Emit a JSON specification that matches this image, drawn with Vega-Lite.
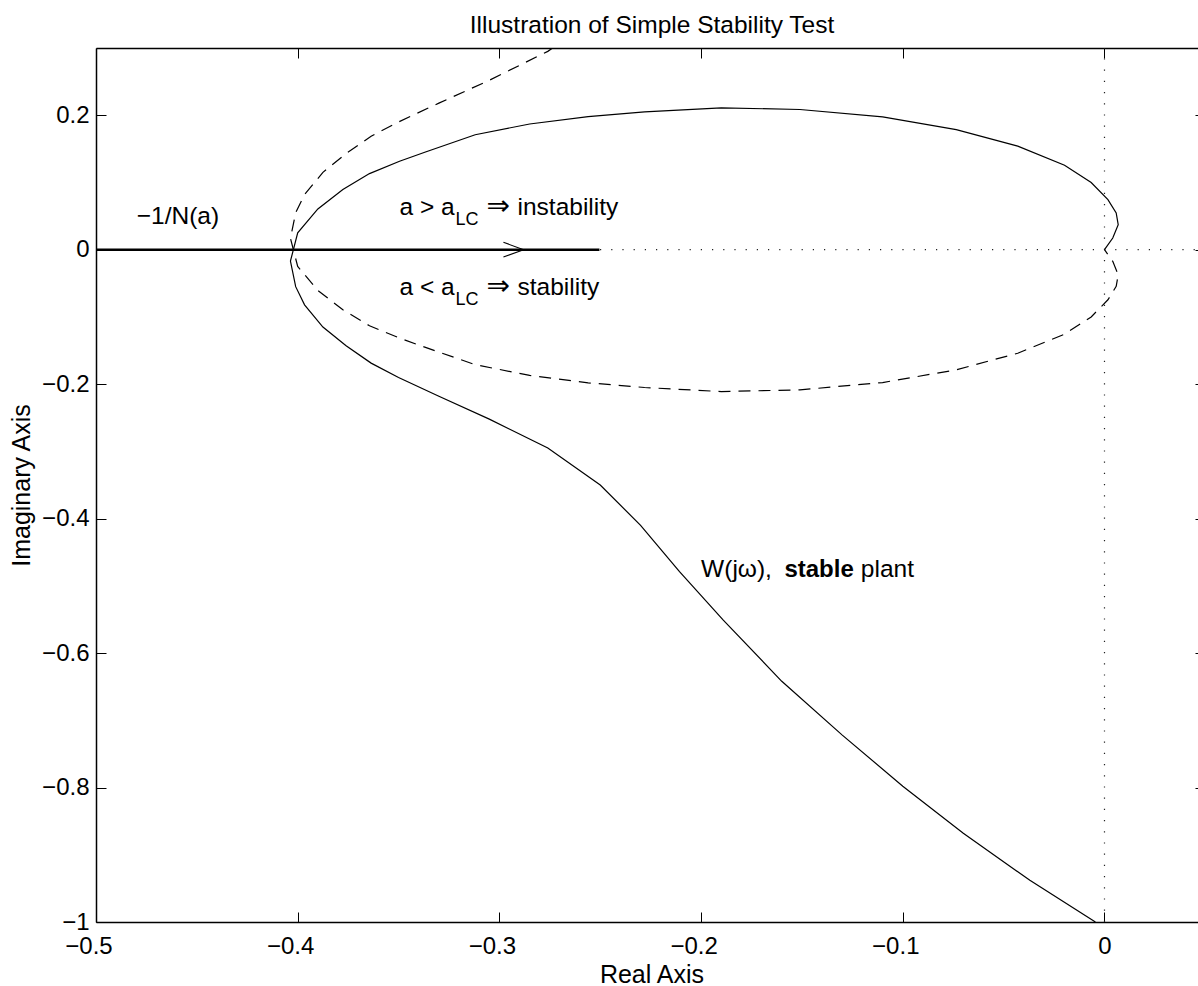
{
  "$schema": "https://vega.github.io/schema/vega-lite/v6.json",
  "width": 1102,
  "height": 874,
  "autosize": {"type": "none"},
  "padding": {"left": 96, "top": 48, "right": 0, "bottom": 64},
  "background": "white",
  "title": {"text": "Illustration of Simple Stability Test", "fontSize": 24.5, "fontWeight": "normal", "font": "Liberation Sans", "color": "black", "anchor": "middle", "frame": "group", "baseline": "alphabetic", "offset": -9.5, "dx": 5},
  "config": {
    "font": "Liberation Sans",
    "view": {"stroke": null},
    "axis": {"grid": false, "domainColor": "black", "domainWidth": 1.5, "tickColor": "black", "tickWidth": 1, "labelColor": "black", "labelFont": "Liberation Sans", "labelFontSize": 24, "titleFont": "Liberation Sans", "titleFontSize": 25, "titleFontWeight": "normal", "titleColor": "black", "labelFlush": false, "labelOverlap": false, "labelBound": false}
  },
  "datasets": {
    "segs": [
      {"role": "dot", "x": -0.5, "y": 0, "x2": 0.06, "y2": 0},
      {"role": "dot", "x": 0, "y": -1, "x2": 0, "y2": 0.3},
      {"role": "thick", "x": -0.5, "y": 0, "x2": -0.2504, "y2": 0},
      {"role": "arrow", "x": -0.298, "y": 0.011, "x2": -0.288, "y2": 0},
      {"role": "arrow", "x": -0.298, "y": -0.011, "x2": -0.288, "y2": 0}
    ],
    "curves": [
      {"s": "pos", "i": 1, "x": -0.0045, "y": -1.0},
      {"s": "pos", "i": 2, "x": -0.037, "y": -0.938},
      {"s": "pos", "i": 3, "x": -0.07, "y": -0.868},
      {"s": "pos", "i": 4, "x": -0.1, "y": -0.798},
      {"s": "pos", "i": 5, "x": -0.13, "y": -0.722},
      {"s": "pos", "i": 6, "x": -0.16, "y": -0.642},
      {"s": "pos", "i": 7, "x": -0.189, "y": -0.551},
      {"s": "pos", "i": 8, "x": -0.2107, "y": -0.479},
      {"s": "pos", "i": 9, "x": -0.23, "y": -0.41},
      {"s": "pos", "i": 10, "x": -0.25, "y": -0.35},
      {"s": "pos", "i": 11, "x": -0.276, "y": -0.295},
      {"s": "pos", "i": 12, "x": -0.305, "y": -0.252},
      {"s": "pos", "i": 13, "x": -0.33, "y": -0.218},
      {"s": "pos", "i": 14, "x": -0.35, "y": -0.19},
      {"s": "pos", "i": 15, "x": -0.3636, "y": -0.1687},
      {"s": "pos", "i": 16, "x": -0.376, "y": -0.143},
      {"s": "pos", "i": 17, "x": -0.3875, "y": -0.115},
      {"s": "pos", "i": 18, "x": -0.3966, "y": -0.082},
      {"s": "pos", "i": 19, "x": -0.401, "y": -0.055},
      {"s": "pos", "i": 20, "x": -0.4036, "y": -0.017},
      {"s": "pos", "i": 21, "x": -0.4, "y": 0.025},
      {"s": "pos", "i": 22, "x": -0.39, "y": 0.0606},
      {"s": "pos", "i": 23, "x": -0.3776, "y": 0.0894},
      {"s": "pos", "i": 24, "x": -0.3644, "y": 0.1132},
      {"s": "pos", "i": 25, "x": -0.3495, "y": 0.1315},
      {"s": "pos", "i": 26, "x": -0.337, "y": 0.145},
      {"s": "pos", "i": 27, "x": -0.312, "y": 0.171},
      {"s": "pos", "i": 28, "x": -0.285, "y": 0.187},
      {"s": "pos", "i": 29, "x": -0.256, "y": 0.198},
      {"s": "pos", "i": 30, "x": -0.228, "y": 0.205},
      {"s": "pos", "i": 31, "x": -0.19, "y": 0.211},
      {"s": "pos", "i": 32, "x": -0.151, "y": 0.2085},
      {"s": "pos", "i": 33, "x": -0.11, "y": 0.1976},
      {"s": "pos", "i": 34, "x": -0.0735, "y": 0.1787},
      {"s": "pos", "i": 35, "x": -0.043, "y": 0.154},
      {"s": "pos", "i": 36, "x": -0.0198, "y": 0.1256},
      {"s": "pos", "i": 37, "x": -0.0066, "y": 0.1},
      {"s": "pos", "i": 38, "x": 0.0017, "y": 0.0745},
      {"s": "pos", "i": 39, "x": 0.0058, "y": 0.0546},
      {"s": "pos", "i": 40, "x": 0.0068, "y": 0.0372},
      {"s": "pos", "i": 41, "x": 0.0041, "y": 0.0174},
      {"s": "pos", "i": 42, "x": 0.0, "y": 0.0},
      {"s": "neg", "i": 1, "x": -0.0045, "y": 1.0},
      {"s": "neg", "i": 2, "x": -0.037, "y": 0.938},
      {"s": "neg", "i": 3, "x": -0.07, "y": 0.868},
      {"s": "neg", "i": 4, "x": -0.1, "y": 0.798},
      {"s": "neg", "i": 5, "x": -0.13, "y": 0.722},
      {"s": "neg", "i": 6, "x": -0.16, "y": 0.642},
      {"s": "neg", "i": 7, "x": -0.189, "y": 0.551},
      {"s": "neg", "i": 8, "x": -0.2107, "y": 0.479},
      {"s": "neg", "i": 9, "x": -0.23, "y": 0.41},
      {"s": "neg", "i": 10, "x": -0.25, "y": 0.35},
      {"s": "neg", "i": 11, "x": -0.276, "y": 0.295},
      {"s": "neg", "i": 12, "x": -0.305, "y": 0.252},
      {"s": "neg", "i": 13, "x": -0.33, "y": 0.218},
      {"s": "neg", "i": 14, "x": -0.35, "y": 0.19},
      {"s": "neg", "i": 15, "x": -0.3636, "y": 0.1687},
      {"s": "neg", "i": 16, "x": -0.376, "y": 0.143},
      {"s": "neg", "i": 17, "x": -0.3875, "y": 0.115},
      {"s": "neg", "i": 18, "x": -0.3966, "y": 0.082},
      {"s": "neg", "i": 19, "x": -0.401, "y": 0.055},
      {"s": "neg", "i": 20, "x": -0.4036, "y": 0.017},
      {"s": "neg", "i": 21, "x": -0.4, "y": -0.025},
      {"s": "neg", "i": 22, "x": -0.39, "y": -0.0606},
      {"s": "neg", "i": 23, "x": -0.3776, "y": -0.0894},
      {"s": "neg", "i": 24, "x": -0.3644, "y": -0.1132},
      {"s": "neg", "i": 25, "x": -0.3495, "y": -0.1315},
      {"s": "neg", "i": 26, "x": -0.337, "y": -0.145},
      {"s": "neg", "i": 27, "x": -0.312, "y": -0.171},
      {"s": "neg", "i": 28, "x": -0.285, "y": -0.187},
      {"s": "neg", "i": 29, "x": -0.256, "y": -0.198},
      {"s": "neg", "i": 30, "x": -0.228, "y": -0.205},
      {"s": "neg", "i": 31, "x": -0.19, "y": -0.211},
      {"s": "neg", "i": 32, "x": -0.151, "y": -0.2085},
      {"s": "neg", "i": 33, "x": -0.11, "y": -0.1976},
      {"s": "neg", "i": 34, "x": -0.0735, "y": -0.1787},
      {"s": "neg", "i": 35, "x": -0.043, "y": -0.154},
      {"s": "neg", "i": 36, "x": -0.0198, "y": -0.1256},
      {"s": "neg", "i": 37, "x": -0.0066, "y": -0.1},
      {"s": "neg", "i": 38, "x": 0.0017, "y": -0.0745},
      {"s": "neg", "i": 39, "x": 0.0058, "y": -0.0546},
      {"s": "neg", "i": 40, "x": 0.0068, "y": -0.0372},
      {"s": "neg", "i": 41, "x": 0.0041, "y": -0.0174},
      {"s": "neg", "i": 42, "x": 0.0, "y": 0.0}
    ],
    "ann": [
      {"role": "n", "x": -0.4798, "y": 0.0387, "text": "−1/N(a)"},
      {"role": "n", "x": -0.3495, "y": 0.0521, "text": "a > a"},
      {"role": "sub", "x": -0.3218, "y": 0.0372, "text": "LC"},
      {"role": "arr", "x": -0.3064, "y": 0.0521, "text": "⇒"},
      {"role": "n", "x": -0.291, "y": 0.0521, "text": "instability"},
      {"role": "n", "x": -0.3495, "y": -0.067, "text": "a < a"},
      {"role": "sub", "x": -0.3218, "y": -0.082, "text": "LC"},
      {"role": "arr", "x": -0.3064, "y": -0.067, "text": "⇒"},
      {"role": "n", "x": -0.291, "y": -0.067, "text": "stability"},
      {"role": "n", "x": -0.2, "y": -0.4865, "text": "W(jω),"},
      {"role": "b", "x": -0.1587, "y": -0.4865, "text": "stable"},
      {"role": "n", "x": -0.1208, "y": -0.4865, "text": "plant"}
    ]
  },
  "layer": [
    {
      "data": {"name": "segs"},
      "transform": [{"filter": "datum.role == 'dot'"}],
      "mark": {"type": "rule", "clip": true, "color": "#222", "strokeWidth": 1.2, "strokeDash": [1.2, 10]},
      "encoding": {
        "x": {"field": "x", "type": "quantitative", "scale": {"domain": [-0.5, 0.04636], "nice": false, "zero": false}, "axis": null},
        "y": {"field": "y", "type": "quantitative", "scale": {"domain": [-1, 0.3], "nice": false, "zero": false}, "axis": null},
        "x2": {"field": "x2"},
        "y2": {"field": "y2"}
      }
    },
    {
      "data": {"name": "segs"},
      "transform": [{"filter": "datum.role == 'thick'"}],
      "mark": {"type": "rule", "clip": true, "color": "black", "strokeWidth": 2.6},
      "encoding": {
        "x": {"field": "x", "type": "quantitative", "axis": null},
        "y": {"field": "y", "type": "quantitative", "axis": null},
        "x2": {"field": "x2"},
        "y2": {"field": "y2"}
      }
    },
    {
      "data": {"name": "segs"},
      "transform": [{"filter": "datum.role == 'arrow'"}],
      "mark": {"type": "rule", "clip": true, "color": "black", "strokeWidth": 1.1},
      "encoding": {
        "x": {"field": "x", "type": "quantitative", "axis": null},
        "y": {"field": "y", "type": "quantitative", "axis": null},
        "x2": {"field": "x2"},
        "y2": {"field": "y2"}
      }
    },
    {
      "data": {"name": "curves"},
      "transform": [{"filter": "datum.s == 'pos'"}],
      "mark": {"type": "line", "clip": true, "color": "black", "strokeWidth": 1.2},
      "encoding": {
        "x": {"field": "x", "type": "quantitative", "axis": {"orient": "bottom", "values": [-0.5, -0.4, -0.3, -0.2, -0.1, 0], "format": "~g", "tickSize": -10, "labelPadding": 41, "labelBaseline": "alphabetic", "labelOffset": {"condition": {"test": "datum.value < 0", "value": -7.5}, "value": 0}, "title": "Real Axis", "titleX": 555.5, "titleY": 60, "titleBaseline": "alphabetic"}},
        "y": {"field": "y", "type": "quantitative", "axis": {"orient": "left", "values": [-1, -0.8, -0.6, -0.4, -0.2, 0, 0.2], "format": "~g", "tickSize": -10, "labelPadding": 17, "title": "Imaginary Axis", "titleX": -67, "titleY": 437, "titleBaseline": "alphabetic"}},
        "order": {"field": "i", "type": "quantitative"}
      }
    },
    {
      "data": {"name": "curves"},
      "transform": [{"filter": "datum.s == 'neg'"}],
      "mark": {"type": "line", "clip": true, "color": "black", "strokeWidth": 1.2, "strokeDash": [12, 8]},
      "encoding": {
        "x": {"field": "x", "type": "quantitative", "axis": {"orient": "top", "values": [-0.5, -0.4, -0.3, -0.2, -0.1, 0], "labels": false, "title": null, "tickSize": -10, "minExtent": 0, "maxExtent": 0}},
        "y": {"field": "y", "type": "quantitative", "axis": {"orient": "right", "values": [-1, -0.8, -0.6, -0.4, -0.2, 0, 0.2], "labels": false, "title": null, "tickSize": -3, "domain": false, "minExtent": 0, "maxExtent": 0}},
        "order": {"field": "i", "type": "quantitative"}
      }
    },
    {
      "data": {"name": "ann"},
      "transform": [{"filter": "datum.role == 'n'"}],
      "mark": {"type": "text", "align": "left", "baseline": "alphabetic", "fontSize": 24.5, "font": "Liberation Sans", "color": "black"},
      "encoding": {
        "x": {"field": "x", "type": "quantitative", "axis": null},
        "y": {"field": "y", "type": "quantitative", "axis": null},
        "text": {"field": "text"}
      }
    },
    {
      "data": {"name": "ann"},
      "transform": [{"filter": "datum.role == 'arr'"}],
      "mark": {"type": "text", "align": "left", "baseline": "alphabetic", "fontSize": 28, "font": "DejaVu Sans", "color": "black"},
      "encoding": {
        "x": {"field": "x", "type": "quantitative", "axis": null},
        "y": {"field": "y", "type": "quantitative", "axis": null},
        "text": {"field": "text"}
      }
    },
    {
      "data": {"name": "ann"},
      "transform": [{"filter": "datum.role == 'sub'"}],
      "mark": {"type": "text", "align": "left", "baseline": "alphabetic", "fontSize": 18, "font": "Liberation Sans", "color": "black"},
      "encoding": {
        "x": {"field": "x", "type": "quantitative", "axis": null},
        "y": {"field": "y", "type": "quantitative", "axis": null},
        "text": {"field": "text"}
      }
    },
    {
      "data": {"name": "ann"},
      "transform": [{"filter": "datum.role == 'b'"}],
      "mark": {"type": "text", "align": "left", "baseline": "alphabetic", "fontSize": 24, "fontWeight": "bold", "font": "Liberation Sans", "color": "black"},
      "encoding": {
        "x": {"field": "x", "type": "quantitative", "axis": null},
        "y": {"field": "y", "type": "quantitative", "axis": null},
        "text": {"field": "text"}
      }
    }
  ],
  "resolve": {"axis": {"x": "independent", "y": "independent"}}
}
